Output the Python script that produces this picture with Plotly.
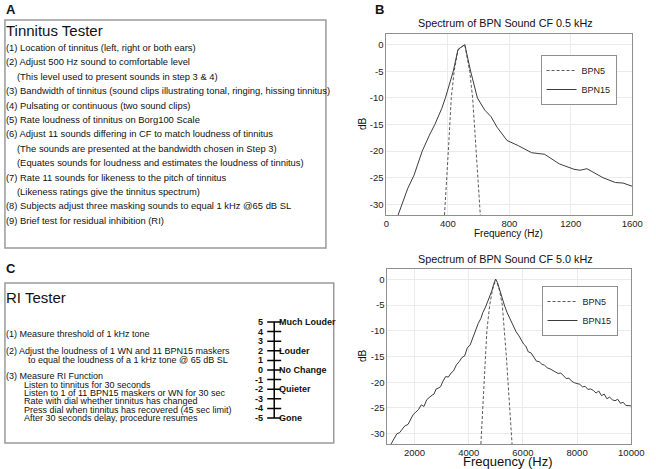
import plotly.graph_objects as go

W, H = 656, 469
def px(x): return x / W
def py(y): return 1 - y / H

FONT = "Arial, Liberation Sans, sans-serif"

# ---------------- data ----------------
top_bpn15_hz = [76, 100, 139, 180, 233, 280, 315, 360, 384, 435, 466, 490, 510,
                548, 592, 640, 680, 720, 785, 860, 945, 1030, 1125, 1220, 1260,
                1305, 1350, 1410, 1490, 1540, 1600]
top_bpn15_db = [-32, -30, -27, -24.5, -20, -17, -15, -12, -10, -5, -0.9, -0.4, 0,
                -5, -10, -12.3, -13.5, -15.5, -18, -19, -20.3, -20.6, -22.4, -23.4, -23.6,
                -23.3, -24, -25, -25.9, -26, -26.6]
top_bpn5_hz = [378, 390, 403, 422, 441, 466, 510, 542, 561, 575, 590, 611]
top_bpn5_db = [-32, -27, -20, -10, -5, -1, 0, -5, -10, -16, -23, -32]

bot_bpn15_hz = [1135, 1250, 1351, 1450, 1550, 1640, 1760, 1850, 1950, 2050, 2150, 2250,
                2350, 2450, 2550, 2650, 2720, 2800, 2900, 2970, 3050, 3150, 3250, 3350,
                3440, 3550, 3650, 3750, 3850, 3950, 4050, 4150, 4234, 4350, 4450, 4520,
                4620, 4700, 4775, 4850, 4920, 4990, 5060, 5135, 5220, 5315, 5420, 5500,
                5570, 5650, 5750, 5855, 5950, 6030, 6110, 6200, 6300, 6400, 6500, 6600,
                6700, 6800, 6900, 7000, 7100, 7200, 7300, 7400, 7500, 7600, 7700, 7800,
                7900, 8000, 8100, 8200, 8300, 8400, 8500, 8600, 8700, 8800, 8900, 9000,
                9100, 9200, 9300, 9400, 9500, 9600, 9700, 9800, 9900, 10000]
bot_bpn15_db = [-32, -31, -30, -29.8, -29, -28.5, -28.2, -27.3, -26.3, -25.8, -25.3, -24.4,
                -24.7, -23.4, -22.9, -22.5, -22.3, -21.3, -21.1, -20.8, -19.8, -18.9, -19.0, -18.2,
                -17.8, -16.6, -16.0, -15.2, -14.9, -13.3, -12.8, -11.3, -10, -8.6, -7.6, -6.5,
                -5.4, -4.3, -3.4, -2.3, -1.0, 0, -0.6, -2.0, -3.2, -5, -6.5, -7.4,
                -8.2, -9.3, -10.2, -11, -12.0, -12.6, -13, -14.1, -14.3, -15.2, -15.9, -16.0,
                -16.5, -16.7, -17.2, -17.4, -17.7, -18.0, -18.3, -18.2, -18.8, -19.3, -19.2, -19.8,
                -20.1, -20.3, -20.4, -20.9, -20.8, -21.4, -21.3, -21.6, -22.1, -21.7, -22.6, -22.3,
                -23.2, -22.9, -23.4, -23.6, -23.3, -24.1, -23.9, -24.5, -24.6, -24.6]
bot_bpn5_hz = [4450, 4630, 4670, 4775, 4880, 5000, 5130, 5240, 5315, 5390, 5600]
bot_bpn5_db = [-32, -15, -10, -5, -2, 0, -2, -5, -10, -15, -32]

db_ticks = [0, -5, -10, -15, -20, -25, -30]
db_ticktext = ["0", "-5", "-10", "-15", "-20", "-25", "-30"]
top_xticks = [0, 400, 800, 1200, 1600]
bot_xticks = [2000, 4000, 6000, 8000, 10000]
bot_xticktext = ["2000", "4000", "6000", "8000", "10000"]

tinnitus_title = "Tinnitus Tester"
tinnitus_lines = [
    ("(1) Location of tinnitus (left, right or both ears)", 0),
    ("(2) Adjust 500 Hz sound to comfortable level", 0),
    ("(This level used to present sounds in step 3 & 4)", 1),
    ("(3) Bandwidth of tinnitus (sound clips illustrating tonal, ringing, hissing tinnitus)", 0),
    ("(4) Pulsating or continuous (two sound clips)", 0),
    ("(5) Rate loudness of tinnitus on Borg100 Scale", 0),
    ("(6) Adjust 11 sounds differing in CF to match loudness of tinnitus", 0),
    ("(The sounds are presented at the bandwidth chosen in Step 3)", 1),
    ("(Equates sounds for loudness and estimates the loudness of tinnitus)", 1),
    ("(7) Rate 11 sounds for likeness to the pitch of tinnitus", 0),
    ("(Likeness ratings give the tinnitus spectrum)", 1),
    ("(8) Subjects adjust three masking sounds to equal 1 kHz @65 dB SL", 0),
    ("(9) Brief test for residual inhibition (RI)", 0),
]

ri_title = "RI Tester"
ri_lines = [
    ("(1) Measure threshold of 1 kHz tone", 0, 334),
    ("(2) Adjust the loudness of 1 WN and 11 BPN15 maskers", 0, 351),
    ("to equal the loudness of a 1 kHz tone @ 65 dB SL", 2, 359.5),
    ("(3) Measure RI Function", 0, 376),
    ("Listen to tinnitus for 30 seconds", 1, 384.5),
    ("Listen to 1 of 11 BPN15 maskers or WN for 30 sec", 1, 393),
    ("Rate with dial whether tinnitus has changed", 1, 401),
    ("Press dial when tinnitus has recovered (45 sec limit)", 1, 409.5),
    ("After 30 seconds delay, procedure resumes", 1, 418),
]

scale_values = [5, 4, 3, 2, 1, 0, -1, -2, -3, -4, -5]
scale_words = {5: "Much Louder", 2: "Louder", 0: "No Change", -2: "Quieter", -5: "Gone"}

# ---------------- figure ----------------
fig = go.Figure()
SOLID = "#3c3c3c"
DASHC = "#5a5a5a"

fig.add_trace(go.Scatter(x=top_bpn5_hz, y=top_bpn5_db, name="BPN5", mode="lines",
                         line=dict(color=DASHC, width=1, dash="3px,2px"),
                         xaxis="x", yaxis="y", legend="legend"))
fig.add_trace(go.Scatter(x=top_bpn15_hz, y=top_bpn15_db, name="BPN15", mode="lines",
                         line=dict(color=SOLID, width=1),
                         xaxis="x", yaxis="y", legend="legend"))
fig.add_trace(go.Scatter(x=bot_bpn5_hz, y=bot_bpn5_db, name="BPN5", mode="lines",
                         line=dict(color=DASHC, width=1, dash="3px,2px"),
                         xaxis="x2", yaxis="y2", legend="legend2"))
fig.add_trace(go.Scatter(x=bot_bpn15_hz, y=bot_bpn15_db, name="BPN15", mode="lines",
                         line=dict(color=SOLID, width=1),
                         xaxis="x2", yaxis="y2", legend="legend2"))

# rating scale (panel C)
fig.add_trace(go.Scatter(x=[28, 28], y=[scale_values[0], scale_values[-1]], mode="lines",
                         line=dict(color="black", width=1.5), xaxis="x3", yaxis="y3",
                         showlegend=False, hoverinfo="skip"))
fig.add_trace(go.Scatter(x=[28] * len(scale_values), y=scale_values, mode="markers",
                         marker=dict(symbol="line-ew", size=10,
                                     line=dict(color="black", width=1.5)),
                         xaxis="x3", yaxis="y3", showlegend=False, hoverinfo="skip"))

axis_common = dict(showline=True, linecolor="#8f8f8f", linewidth=1, mirror=True,
                   showgrid=True, gridcolor="#ebebeb", gridwidth=1, zeroline=False,
                   ticks="", ticklen=0, tickfont=dict(family=FONT, size=9.5, color="#222"))

fig.update_layout(
    width=W, height=H, autosize=False,
    margin=dict(l=0, r=0, t=0, b=0),
    paper_bgcolor="white", plot_bgcolor="white",
    font=dict(family=FONT, color="#111"),
    xaxis=dict(domain=[px(393), px(645)], range=[0, 1600], tickvals=top_xticks,
               anchor="y", **axis_common),
    yaxis=dict(domain=[py(215), py(34)], range=[-32, 2], tickvals=db_ticks,
               ticktext=db_ticktext, anchor="x", **axis_common),
    xaxis2=dict(domain=[px(394), px(644)], range=[1000, 10000], tickvals=bot_xticks,
                ticktext=bot_xticktext, anchor="y2", **axis_common),
    yaxis2=dict(domain=[py(444), py(269)], range=[-32, 2], tickvals=db_ticks,
                ticktext=db_ticktext, anchor="x2", **axis_common),
    xaxis3=dict(domain=[px(250), px(340)], range=[0, 90], visible=False, anchor="y3"),
    yaxis3=dict(domain=[py(422.8), py(317.2)], range=[-5.5, 5.5], visible=False, anchor="x3"),
    legend=dict(x=px(551), y=py(55), xanchor="left", yanchor="top",
                bordercolor="#8f8f8f", borderwidth=1, bgcolor="white",
                font=dict(family=FONT, size=9, color="#222"), tracegroupgap=0),
    legend2=dict(x=px(552), y=py(286), xanchor="left", yanchor="top",
                 bordercolor="#8f8f8f", borderwidth=1, bgcolor="white",
                 font=dict(family=FONT, size=9, color="#222"), tracegroupgap=0),
)

shapes = []
BOXC = "#9a9a9a"
shapes.append(dict(type="rect", xref="paper", yref="paper", x0=px(2), x1=px(331),
                   y0=py(248), y1=py(20), line=dict(color=BOXC, width=1.5)))
shapes.append(dict(type="rect", xref="paper", yref="paper", x0=px(2), x1=px(339),
                   y0=py(443), y1=py(283), line=dict(color=BOXC, width=1.5)))
fig.update_layout(shapes=shapes)

ann = []
def text(x, y, s, size, bold=False, family=FONT, xanchor="left", color="#111", angle=0):
    ann.append(dict(xref="paper", yref="paper", x=px(x), y=py(y),
                    text=(f"<b>{s}</b>" if bold else s), textangle=angle,
                    showarrow=False, xanchor=xanchor, yanchor="middle", borderpad=0,
                    font=dict(family=family, size=size, color=color)))

# panel labels
text(2, 9, "A", 13, bold=True)
text(380, 9, "B", 13, bold=True)
text(2, 268, "C", 13, bold=True)

# panel A
text(2, 30, tinnitus_title, 15)
for row, (s, ind) in enumerate(tinnitus_lines):
    text(2 + 11 * ind, 47.5 + 14.4 * row, s, 9.4)

# panel C
text(2, 297, ri_title, 15)
for s, ind, yy in ri_lines:
    xx = {0: 2, 1: 21, 2: 25}[ind]
    text(xx, yy, s, 9)

for v in scale_values:
    ann.append(dict(xref="x3", yref="y3", x=18, y=v, text=f"<b>{v}</b>", showarrow=False,
                    xanchor="right", yanchor="middle", borderpad=0,
                    font=dict(family=FONT, size=9, color="#111")))
for v, w in scale_words.items():
    ann.append(dict(xref="x3", yref="y3", x=32, y=v, text=f"<b>{w}</b>", showarrow=False,
                    xanchor="left", yanchor="middle", borderpad=0,
                    font=dict(family=FONT, size=9, color="#111")))

# panel B titles
text(515, 23, "Spectrum of BPN Sound CF 0.5 kHz", 10.8, xanchor="center")
text(515, 259, "Spectrum of BPN Sound CF 5.0 kHz", 10.8, xanchor="center")
text(518, 233.5, "Frequency (Hz)", 10, xanchor="center")
text(518, 461, "Frequency (Hz)", 13, xanchor="center")
text(368, 124, "dB", 10, xanchor="center", angle=-90)
text(368, 356, "dB", 10, xanchor="center", angle=-90)

fig.update_layout(annotations=ann)
fig.write_html("out.html", config={"displayModeBar": False},
               post_script="document.body.style.margin='0px';document.body.style.overflow='hidden';")
